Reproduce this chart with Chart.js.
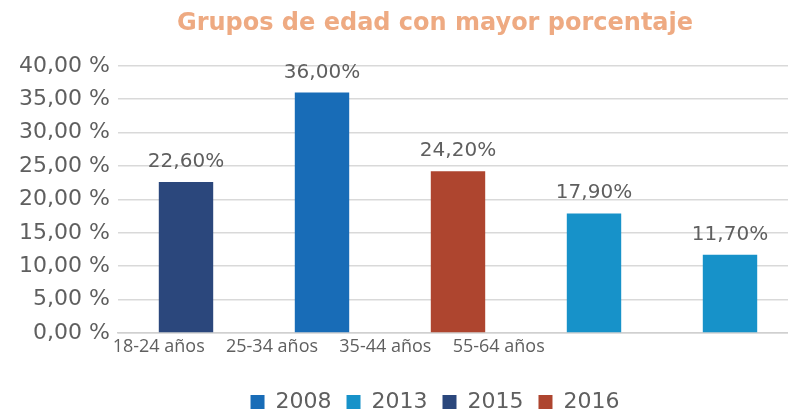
<!DOCTYPE html>
<html>
<head>
<meta charset="utf-8">
<script src="https://cdn.jsdelivr.net/npm/chart.js@4.4.1/dist/chart.umd.min.js"></script>
<style>
  html, body { margin: 0; padding: 0; background: #fff; overflow: hidden; }
  #wrap { position: relative; width: 862px; height: 423px; }
</style>
</head>
<body>
<div id="wrap"><canvas id="chart_grupos"></canvas></div>
<script>
// categories (the last column has no label in the original)
var categories = ['18-24 años', '25-34 años', '35-44 años', '55-64 años', ''];
// labels printed under the axis
var axisLabels = ['18-24 años', '25-34 años', '35-44 años', '55-64 años', '', ''];

var years = ['2008', '2013', '2015', '2016'];
var values2008 = [null, 36.0, null, null, null];
var values2013 = [null, null, null, 17.9, 11.7];
var values2015 = [22.6, null, null, null, null];
var values2016 = [null, null, 24.2, null, null];

var yearColors = ['#186cb7', '#1792c9', '#2b477c', '#ae452f'];

var fontFamily = '"DejaVu Sans", "Open Sans", sans-serif';
var textColor = '#5f5f5f';

function fmt(v, sep) {
    return v.toFixed(2).replace('.', ',') + sep + '%';
}

var valueLabels = {
    id: 'valueLabels',
    afterDatasetsDraw: (chart) => {
        const ctx = chart.ctx;
        ctx.save();
        ctx.font = '20px ' + fontFamily;
        ctx.fillStyle = textColor;
        ctx.textAlign = 'center';
        ctx.textBaseline = 'alphabetic';
        chart.data.datasets.forEach((ds, i) => {
            const meta = chart.getDatasetMeta(i);
            meta.data.forEach((bar, j) => {
                const v = ds.data[j];
                if (v === null || v === undefined) return;
                ctx.fillText(fmt(v, ''), bar.x, bar.y - 15);
            });
        });
        ctx.restore();
    }
};

var seriesValues = [values2008, values2013, values2015, values2016];

var chart_grupos = new Chart(document.getElementById('chart_grupos'), {
    type: 'bar',
    data: {
        labels: categories,
        datasets: years.map((y, i) => ({
            label: y,
            data: seriesValues[i],
            backgroundColor: yearColors[i],
            borderWidth: 0,
            barPercentage: 0.8,
            categoryPercentage: 0.5,
            xAxisID: 'x',
            yAxisID: 'y'
        }))
    },
    options: {
        animation: false,
        responsive: true,
        maintainAspectRatio: false,
        layout: {
            padding: { left: 8, right: 0, top: 0, bottom: 0 }
        },
        plugins: {
            title: {
                display: true,
                text: 'Grupos de edad con mayor porcentaje',
                color: '#eeaa82',
                font: { family: fontFamily, size: 24, weight: 'bold' },
                padding: { top: 9, bottom: 28 }
            },
            legend: {
                position: 'bottom',
                labels: {
                    color: textColor,
                    font: { family: fontFamily, size: 22 },
                    boxWidth: 14,
                    boxHeight: 14,
                    padding: 15
                }
            },
            tooltip: { enabled: false }
        },
        scales: {
            x: {
                stacked: true,
                position: 'bottom',
                weight: 0,
                grid: { display: false },
                border: { display: true, color: '#d0d0d0', width: 1.5 },
                ticks: { display: false },
                afterFit: (scale) => { scale.height = 0; }
            },
            xl: {
                type: 'category',
                labels: axisLabels,
                position: 'bottom',
                weight: 1,
                offset: true,
                grid: { display: false, drawTicks: false },
                border: { display: false },
                ticks: {
                    color: textColor,
                    font: { family: '"Open Sans", sans-serif', size: 18 },
                    labelOffset: -16,
                    padding: 3,
                    maxRotation: 0,
                    autoSkip: false
                },
                afterFit: (scale) => { scale.height = 43; }
            },
            y: {
                stacked: true,
                min: 0,
                max: 40,
                border: { display: false },
                grid: { color: '#d9d9d9', lineWidth: 1.5, drawTicks: false },
                ticks: {
                    stepSize: 5,
                    color: textColor,
                    padding: 8,
                    font: { family: fontFamily, size: 22 },
                    callback: function(value) {
                        return fmt(value, ' ');
                    }
                },
                afterFit: (scale) => { scale.width = 110; }
            },
            // empty right-hand axis that keeps the plot off the right edge
            yr: {
                position: 'right',
                display: true,
                grid: { display: false },
                border: { display: false },
                ticks: { display: false },
                afterFit: (scale) => { scale.width = 64; }
            }
        }
    },
    plugins: [valueLabels]
});
</script>
</body>
</html>
